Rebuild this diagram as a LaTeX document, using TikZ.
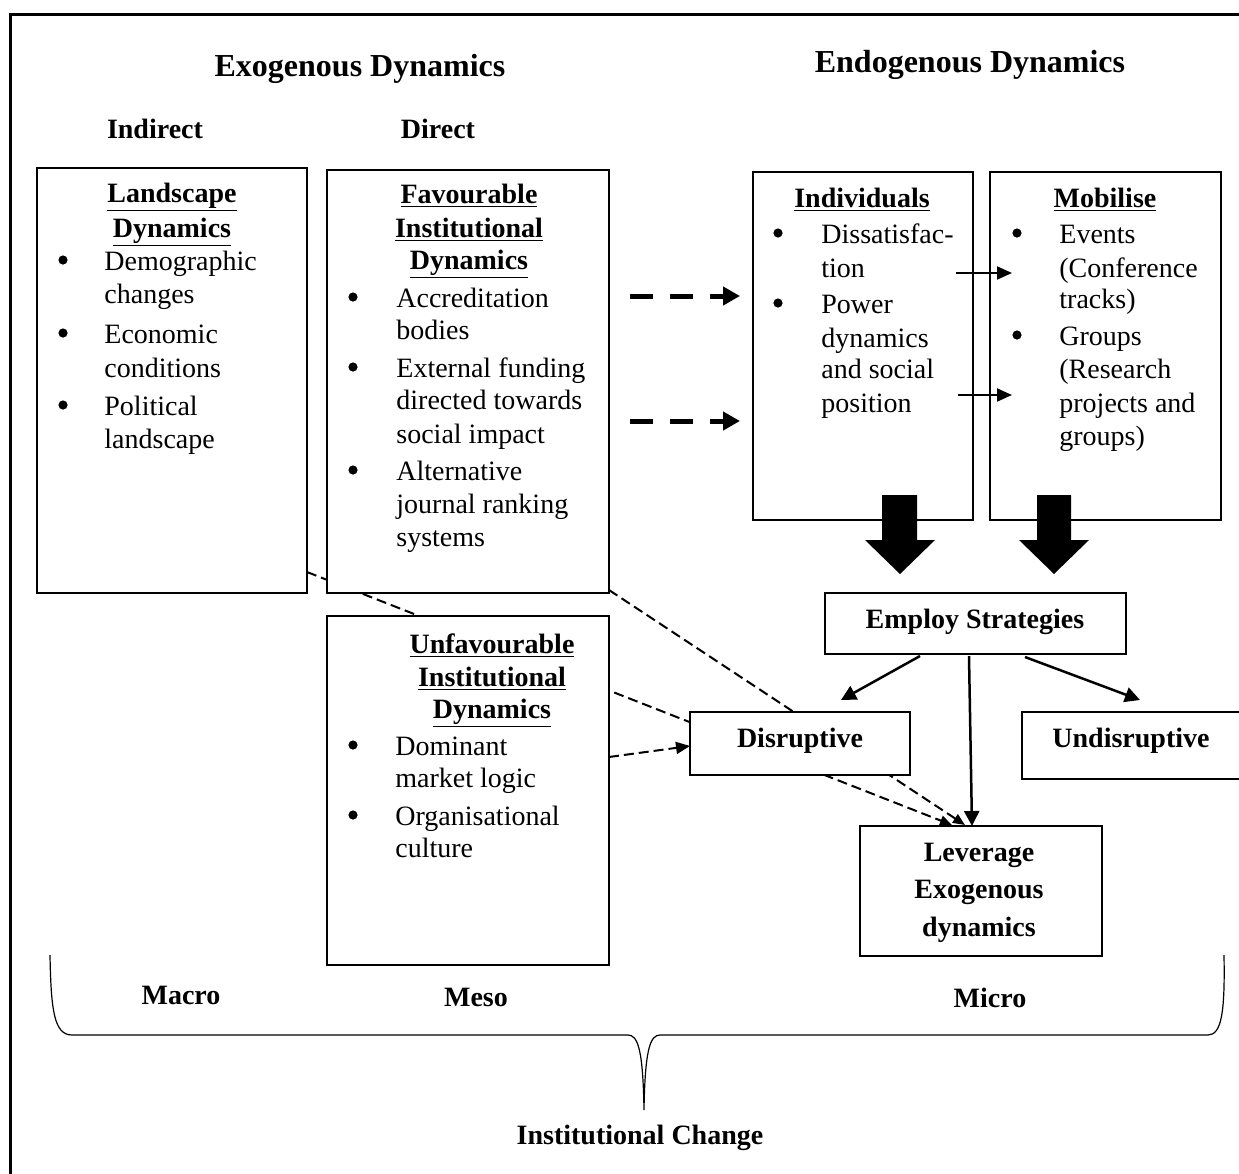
\documentclass[tikz,border=0pt]{standalone}
\usepackage{fontspec}
\setmainfont{Liberation Serif}
\usetikzlibrary{arrows.meta,fit}
\newcommand\tx[4]{\node[txt] (#1) at (#2,#3) {#4};}
\newcommand\bu[3]{\node[bul] (#1) at (#2,#3-10) {};}
\newcommand\hd[4]{\node[bdc] (#1) at (#2,#3) {\underline{#4}};}
\newcommand\bt[4]{\node[bdc] (#1) at (#2,#3) {#4};}
\begin{document}
\begin{tikzpicture}[x=0.5pt,y=-0.5pt,
 box/.style={draw,line width=1pt,fill=white,inner sep=0pt},
 txt/.style={inner sep=0pt,anchor=base west,font=\fontsize{14}{16}\selectfont},
 bul/.style={circle,fill=black,inner sep=0pt,minimum size=4.6pt},
 bdc/.style={inner sep=0pt,anchor=base,font=\fontsize{14}{16}\selectfont\bfseries},
 big/.style={inner sep=0pt,anchor=base,font=\fontsize{16}{19}\selectfont\bfseries},
 thindash/.style={line width=1pt,dash pattern=on 5pt off 2.5pt},
 smalltip/.style={-{Triangle[length=6pt,width=5pt]}},
 solidarrow/.style={line width=1.25pt,-{Triangle[length=7.5pt,width=7.5pt]}},
 thinarrow/.style={line width=1pt,-{Triangle[length=7.5pt,width=6.5pt]}},
 bigdash/.style={line width=2.5pt,dash pattern=on 11.5pt off 8.5pt,-{Triangle[length=8.5pt,width=9pt]}},
 blockarrow/.style={fill=black}
]
\useasboundingbox (0,0) rectangle (1239,1174);
\clip (0,0) rectangle (1239,1174);
% outer frame
\draw[line width=1.5pt] (10,14) rectangle (1300,1300);

% coordinates for connectors
\coordinate (l1s) at (307,572);
\coordinate (l1e) at (952,825);
\coordinate (l2s) at (609,590);
\coordinate (l2e) at (965,825);

% dashed lines passing behind boxes
\draw[thindash,smalltip] (l1s) -- (l1e);
\draw[thindash,smalltip] (l2s) -- (l2e);

% boxes
\node[box,fit={(37,168) (307,593)}] (land) {};
\node[box,fit={(327,170) (609,593)}] (fav) {};
\node[box,fit={(327,616) (609,965)}] (unfav) {};
\node[box,fit={(753,172) (973,520)}] (indiv) {};
\node[box,fit={(990,172) (1221,520)}] (mob) {};
\node[box,fit={(825,593) (1126,654)}] (employ) {};
\node[box,fit={(690,712) (910,775)}] (disr) {};
\node[box,fit={(1022,712) (1260,779)}] (undisr) {};
\node[box,fit={(860,826) (1102,956)}] (lev) {};

% headings
\node[big] (exo) at (360,76) {Exogenous Dynamics};
\node[big] (endo) at (970,72) {Endogenous Dynamics};
\bt{ind}{155}{138}{Indirect}
\bt{dir}{438}{138}{Direct}

% Landscape
\hd{lt1}{172}{202}{Landscape}
\hd{lt2}{172}{237}{Dynamics}
\bu{lb1}{63}{270} \tx{la1}{104}{270}{Demographic} \tx{la2}{104}{303}{changes}
\bu{lb2}{63}{343} \tx{la3}{104}{343}{Economic} \tx{la4}{104}{377}{conditions}
\bu{lb3}{63}{415} \tx{la5}{104}{415}{Political} \tx{la6}{104}{448}{landscape}

% Favourable
\hd{ft1}{469}{203}{Favourable}
\hd{ft2}{469}{237}{Institutional}
\hd{ft3}{469}{269}{Dynamics}
\bu{fb1}{353}{307} \tx{fa1}{396}{307}{Accreditation} \tx{fa2}{396}{339}{bodies}
\bu{fb2}{353}{377} \tx{fa3}{396}{377}{External funding} \tx{fa4}{396}{409}{directed towards} \tx{fa5}{396}{443}{social impact}
\bu{fb3}{353}{480} \tx{fa6}{396}{480}{Alternative} \tx{fa7}{396}{513}{journal ranking} \tx{fa8}{396}{546}{systems}

% Unfavourable
\hd{ut1}{492}{653}{Unfavourable}
\hd{ut2}{492}{686}{Institutional}
\hd{ut3}{492}{718}{Dynamics}
\bu{ub1}{353}{755} \tx{ua1}{395}{755}{Dominant} \tx{ua2}{395}{787}{market logic}
\bu{ub2}{353}{825} \tx{ua3}{395}{825}{Organisational} \tx{ua4}{395}{857}{culture}

% Individuals
\hd{it1}{862}{207}{Individuals}
\bu{ib1}{778}{243} \tx{ia1}{821}{243}{Dissatisfac-} \tx{ia2}{821}{277}{tion}
\bu{ib2}{778}{313} \tx{ia3}{821}{313}{Power} \tx{ia4}{821}{347}{dynamics} \tx{ia5}{821}{378}{and social} \tx{ia6}{821}{412}{position}

% Mobilise
\hd{mt1}{1105}{207}{Mobilise}
\bu{mb1}{1017}{243} \tx{ma1}{1059}{243}{Events} \tx{ma2}{1059}{277}{(Conference} \tx{ma3}{1059}{308}{tracks)}
\bu{mb2}{1017}{345} \tx{ma4}{1059}{345}{Groups} \tx{ma5}{1059}{378}{(Research} \tx{ma6}{1059}{412}{projects and} \tx{ma7}{1059}{445}{groups)}

% box texts
\bt{et}{975}{628}{Employ Strategies}
\bt{dt}{800}{747}{Disruptive}
\bt{ut}{1131}{747}{Undisruptive}
\bt{lv1}{979}{861}{Leverage}
\bt{lv2}{979}{898}{Exogenous}
\bt{lv3}{979}{936}{dynamics}

% big dashed arrows
\coordinate (bd1s) at (630,296); \coordinate (bd1e) at (740,296);
\coordinate (bd2s) at (630,421); \coordinate (bd2e) at (740,421);
\draw[bigdash] (bd1s) -- (bd1e);
\draw[bigdash] (bd2s) -- (bd2e);

% thin arrows individuals -> mobilise
\coordinate (ta1s) at (956,273); \coordinate (ta1e) at (1012,273);
\coordinate (ta2s) at (958,395); \coordinate (ta2e) at (1012,395);
\draw[thinarrow] (ta1s) -- (ta1e);
\draw[thinarrow] (ta2s) -- (ta2e);

% block arrows
\fill[blockarrow] (882,495) -- (917,495) -- (917,540) -- (935,540) -- (900,574) -- (865,540) -- (882,540) -- cycle;
\fill[blockarrow] (1037,495) -- (1071,495) -- (1071,540) -- (1089,540) -- (1054,574) -- (1019,540) -- (1037,540) -- cycle;

% solid arrows from Employ Strategies
\coordinate (e1s) at (920,656); \coordinate (e1e) at (841,700);
\coordinate (e2s) at (969,656); \coordinate (e2e) at (972,826);
\coordinate (e3s) at (1025,657); \coordinate (e3e) at (1140,700);
\draw[solidarrow] (e1s) -- (e1e);
\draw[solidarrow] (e2s) -- (e2e);
\draw[solidarrow] (e3s) -- (e3e);

% dashed arrow from Unfavourable to Disruptive
\coordinate (u2s) at (609,757); \coordinate (u2e) at (690,746);
\draw[thindash,-{Triangle[length=7pt,width=6pt]}] (u2s) -- (u2e);

% brace
\draw[line width=0.6pt] (50,955) .. controls (51,1010) and (54,1035) .. (72,1035) -- (628,1035) .. controls (638,1035) and (643,1050) .. (644,1110) .. controls (645,1050) and (650,1035) .. (660,1035) -- (1208,1035) .. controls (1222,1035) and (1225,1010) .. (1224,955);

\bt{macro}{181}{1004}{Macro}
\bt{meso}{476}{1006}{Meso}
\bt{micro}{990}{1007}{Micro}
\bt{ic}{640}{1144}{Institutional Change}
\end{tikzpicture}
\end{document}
